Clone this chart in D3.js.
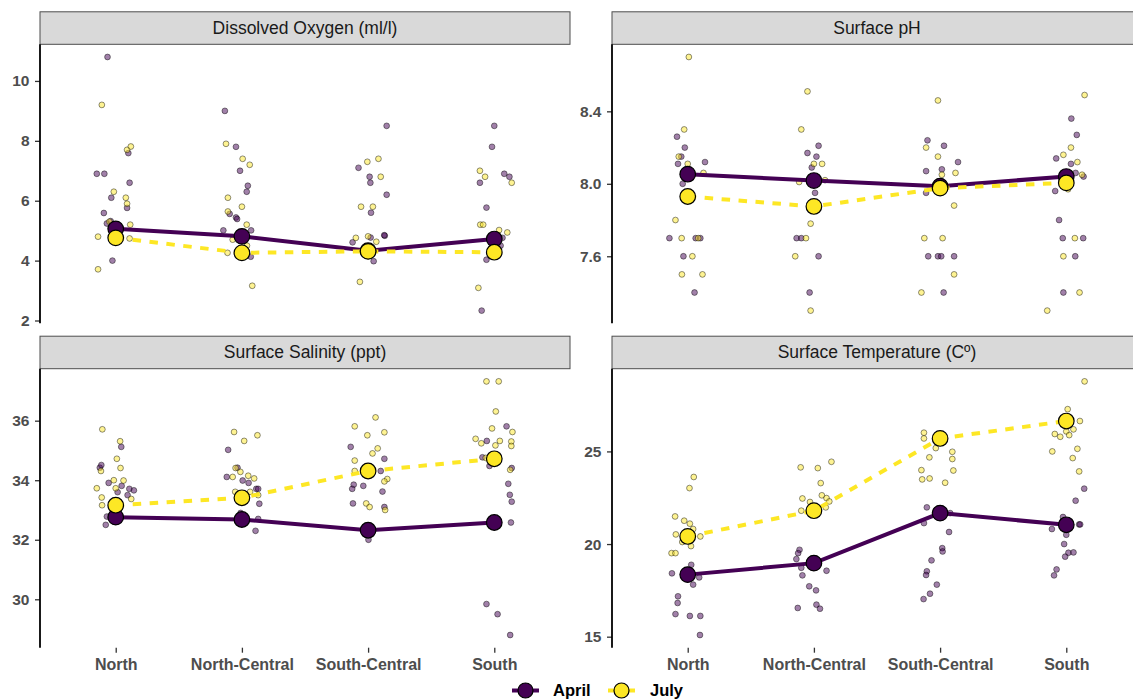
<!DOCTYPE html>
<html>
<head>
<meta charset="utf-8">
<script src="https://cdn.jsdelivr.net/npm/d3@7"></script>
<style>
  body { margin: 0; background: #ffffff; }
  svg { display: block; }
</style>
</head>
<body>
<script>
// Sampling regions, north to south
const regions = ["North", "North-Central", "South-Central", "South"];
const seasons = ["April", "July"];

// Observations: [region index, jitter offset (in category widths), value]
const doApril = [
  [0,-0.065,10.8],[0,-0.15,6.9],[0,-0.09,6.9],[0,0.10,7.59],[0,0.11,6.6],[0,-0.035,6.1],[0,-0.094,5.59],[0,-0.07,5.24],[0,-0.04,5.32],[0,0.09,5.76],[0,-0.026,4.0],
  [1,-0.135,9.0],[1,-0.047,7.8],[1,-0.015,7.0],[1,0.047,6.5],[1,0.038,6.3],[1,-0.097,5.56],[1,-0.047,5.44],[1,-0.038,5.39],[1,-0.147,5.01],[1,0.073,5.01],[1,0.07,4.13],
  [2,0.147,8.5],[2,-0.076,7.1],[2,0.012,6.8],[2,0.018,6.6],[2,0.147,6.2],[2,0.023,5.6],[2,0.132,4.83],[2,0.128,4.85],[2,-0.123,4.61],[2,0.02,4.77],[2,0.044,3.98],
  [3,0,8.5],[3,-0.018,7.8],[3,0.079,6.9],[3,0.12,6.8],[3,-0.114,6.6],[3,-0.062,5.77],[3,0.065,4.76],[3,0.05,4.5],[3,-0.062,4.03],[3,-0.1,2.33]
];
const doJuly = [
  [0,-0.11,9.2],[0,-0.015,6.3],[0,0.08,6.1],[0,0.09,5.9],[0,0.09,7.7],[0,0.12,7.81],[0,0.115,5.2],[0,-0.14,4.8],[0,0.11,4.74],[0,-0.14,3.71],[0,-0.05,5.3],
  [1,-0.126,7.9],[1,0.006,7.4],[1,0.062,7.2],[1,-0.111,6.1],[1,-0.111,5.64],[1,0,5.8],[1,0.038,5.2],[1,-0.073,4.7],[1,-0.114,4.26],[1,0.04,4.5],[1,0.082,3.16],
  [2,-0.006,7.3],[2,0.082,7.4],[2,0.1,6.8],[2,-0.056,5.8],[2,0.038,5.8],[2,-0.097,4.76],[2,0,4.81],[2,0.065,4.63],[2,-0.065,3.29],
  [3,-0.114,7.0],[3,-0.073,6.8],[3,0.138,6.6],[3,-0.111,5.2],[3,-0.088,5.2],[3,0.038,5.02],[3,0.103,4.94],[3,-0.126,3.09]
];
const doMeanApril = [5.06, 4.81, 4.33, 4.72];
const doMeanJuly = [4.76, 4.26, 4.31, 4.28];
const doTicks = [2, 4, 6, 8, 10];

const phApril = [
  [0,-0.085,8.26],[0,-0.023,8.2],[0,-0.051,8.15],[0,-0.077,8.11],[0,0.137,8.12],[0,-0.04,8.0],[0,-0.145,7.7],[0,0.063,7.7],[0,0.1,7.7],[0,-0.034,7.6],[0,0.054,7.4],
  [1,-0.051,8.17],[1,0.037,8.21],[1,0.02,8.15],[1,-0.017,8.09],[1,0.009,7.95],[1,-0.137,7.7],[1,-0.1,7.7],[1,0.037,7.6],[1,-0.034,7.4],
  [2,-0.1,8.24],[2,0.031,8.21],[2,0.142,8.12],[2,-0.111,8.07],[2,0.014,8.08],[2,-0.111,7.95],[2,-0.094,7.6],[2,-0.017,7.6],[2,0.009,7.6],[2,0.111,7.6],[2,0.028,7.4],
  [3,0.04,8.36],[3,0.083,8.27],[3,-0.08,8.14],[3,0.037,8.11],[3,0.074,8.06],[3,0.137,8.04],[3,-0.088,7.96],[3,-0.057,7.8],[3,-0.028,7.7],[3,0.134,7.7],[3,0.071,7.6],[3,-0.023,7.4]
];
const phJuly = [
  [0,0.009,8.7],[0,-0.028,8.3],[0,-0.071,8.15],[0,0,8.11],[0,0.125,8.06],[0,-0.097,7.8],[0,-0.048,7.7],[0,0.083,7.7],[0,0.037,7.6],[0,-0.046,7.5],[0,0.117,7.5],
  [1,-0.051,8.51],[1,-0.1,8.3],[1,0,8.11],[1,0.065,8.11],[1,-0.117,8.01],[1,0.088,8.02],[1,-0.026,7.78],[1,-0.063,7.7],[1,-0.148,7.6],[1,-0.026,7.3],
  [2,-0.017,8.46],[2,-0.111,8.2],[2,-0.017,8.15],[2,0.014,8.05],[2,0.122,8.06],[2,0.111,7.88],[2,-0.125,7.7],[2,0.02,7.7],[2,0.111,7.5],[2,-0.148,7.4],
  [3,0.145,8.49],[3,0.037,8.2],[3,-0.023,8.16],[3,0.088,8.12],[3,0.125,8.05],[3,0.014,7.97],[3,0.068,7.7],[3,-0.023,7.6],[3,0.105,7.4],[3,-0.151,7.3]
];
const phMeanApril = [8.053, 8.018, 7.987, 8.04];
const phMeanJuly = [7.93, 7.875, 7.976, 8.005];
const phTicks = [7.6, 8.0, 8.4];

const salApril = [
  [0,0.044,35.12],[0,-0.126,34.42],[0,-0.114,34.51],[0,-0.056,33.91],[0,0.015,33.6],[0,0.047,33.81],[0,0.108,33.71],[0,0.144,33.66],[0,0.094,33.5],[0,-0.07,32.78],[0,-0.079,32.5],
  [1,-0.109,35.02],[1,-0.12,34.11],[1,-0.035,34.42],[1,0.006,33.99],[1,0.053,33.91],[1,0.114,33.71],[1,0.129,33.71],[1,0.138,33.21],[1,0.129,32.7],[1,0.108,32.3],[1,-0.01,32.9],
  [2,-0.138,35.12],[2,0.129,34.72],[2,0.1,34.31],[2,-0.114,33.85],[2,-0.038,33.81],[2,-0.126,33.71],[2,0.114,33.62],[2,-0.12,33.22],[2,0.129,33.1],[2,0.003,32.0],[2,-0.02,32.3],
  [3,0.097,35.81],[3,-0.059,35.32],[3,-0.094,34.77],[3,-0.038,34.48],[3,0.138,34.41],[3,0.111,33.88],[3,0.123,33.51],[3,0.138,33.28],[3,0.132,32.58],[3,-0.062,29.84],[3,0.026,29.5],[3,0.126,28.8]
];
const salJuly = [
  [0,-0.106,35.71],[0,0.035,35.31],[0,0.009,34.72],[0,0.038,34.41],[0,-0.117,34.31],[0,-0.15,33.73],[0,-0.015,34.0],[0,0.062,33.99],[0,0,33.73],[0,-0.111,33.42],[0,-0.108,33.16],[0,0.123,33.37],
  [1,-0.062,35.62],[1,0.018,35.32],[1,0.123,35.51],[1,-0.073,34.11],[1,-0.05,34.41],[1,-0.012,34.28],[1,0.05,34.15],[1,0.097,34.06],[1,-0.053,33.61],[1,0.065,33.61],[1,0.129,33.5],
  [2,-0.106,35.81],[2,0.059,36.11],[2,-0.006,35.51],[2,0.129,35.61],[2,0.076,35.07],[2,0.035,34.9],[2,-0.106,34.66],[2,-0.106,34.31],[2,0.152,34.04],[2,0.129,33.96],[2,-0.015,33.22],[2,0.012,33.1],[2,0.135,33.0],
  [3,-0.062,37.32],[3,0.035,37.32],[3,0.012,36.31],[3,-0.018,35.74],[3,0.144,35.62],[3,-0.148,35.39],[3,-0.103,35.24],[3,0.044,35.32],[3,0.009,35.17],[3,0.135,35.3],[3,0.135,35.15],[3,0.126,34.35],[3,-0.068,34.75]
];
const salMeanApril = [32.76, 32.68, 32.32, 32.58];
const salMeanJuly = [33.16, 33.41, 34.31, 34.72];
const salTicks = [30, 32, 34, 36];

const tempApril = [
  [0,-0.125,18.42],[0,0.028,18.88],[0,0.091,18.2],[0,0.043,17.81],[0,-0.077,17.18],[0,-0.08,16.82],[0,-0.097,16.22],[0,0.017,16.12],[0,0.1,16.12],[0,0.097,15.09],
  [1,-0.114,19.69],[1,-0.125,19.51],[1,-0.139,19.19],[1,-0.1,18.72],[1,-0.091,18.31],[1,0.1,18.56],[1,-0.037,17.72],[1,0.017,17.5],[1,-0.128,16.55],[1,0.02,16.73],[1,0.048,16.51],
  [2,-0.105,21.98],[2,0.08,21.67],[2,-0.128,21.13],[2,0.071,20.65],[2,0.017,19.78],[2,0.02,19.6],[2,-0.068,19.12],[2,-0.105,18.53],[2,-0.111,18.33],[2,-0.026,17.81],[2,-0.08,17.32],[2,-0.131,17.03],
  [3,0.142,22.99],[3,0.074,22.34],[3,-0.026,21.46],[3,0.102,21.06],[3,0.11,21.06],[3,-0.114,20.81],[3,0,20.5],[3,-0.017,20.0],[3,0.017,19.53],[3,0.057,19.55],[3,-0.009,19.32],[3,-0.077,18.63],[3,-0.097,18.31]
];
const tempJuly = [
  [0,0.048,23.62],[0,0.014,23.02],[0,-0.1,21.49],[0,-0.028,21.26],[0,0.017,21.1],[0,0.043,20.81],[0,-0.094,20.52],[0,0.1,20.41],[0,-0.043,20.11],[0,0.026,19.89],[0,-0.128,19.51],[0,-0.097,19.51],
  [1,-0.105,24.14],[1,0.031,24.1],[1,0.139,24.44],[1,0.054,23.29],[1,-0.091,22.46],[1,-0.031,22.27],[1,0.063,22.63],[1,0.1,22.48],[1,0.122,22.3],[1,0.094,21.98],[1,-0.1,21.8],
  [2,-0.128,26.01],[2,-0.128,25.7],[2,-0.034,25.18],[2,0.097,24.98],[2,0.097,24.59],[2,-0.085,24.68],[2,-0.148,23.99],[2,-0.142,23.49],[2,-0.083,23.54],[2,0.105,23.97],[2,0.04,23.31],
  [3,0.145,28.78],[3,0.011,27.28],[3,0.108,26.64],[3,-0.091,25.94],[3,-0.048,25.79],[3,0,26.08],[3,0.023,25.88],[3,0.057,26.19],[3,0.088,25.14],[3,-0.111,25.0],[3,0.051,24.64],[3,0.102,23.92]
];
const tempMeanApril = [18.35, 18.97, 21.67, 21.04];
const tempMeanJuly = [20.41, 21.8, 25.7, 26.64];
const tempTicks = [15, 20, 25];

const panelTitles = ["Dissolved Oxygen (ml/l)", "Surface pH", "Surface Salinity (ppt)", "Surface Temperature (C\u00BA)"];

// Facet definitions assembled from the arrays above
const panels = [
  { title: panelTitles[0], obs: [doApril, doJuly], means: [doMeanApril, doMeanJuly], ticks: doTicks, fmt: d3.format("d") },
  { title: panelTitles[1], obs: [phApril, phJuly], means: [phMeanApril, phMeanJuly], ticks: phTicks, fmt: d3.format(".1f") },
  { title: panelTitles[2], obs: [salApril, salJuly], means: [salMeanApril, salMeanJuly], ticks: salTicks, fmt: d3.format("d") },
  { title: panelTitles[3], obs: [tempApril, tempJuly], means: [tempMeanApril, tempMeanJuly], ticks: tempTicks, fmt: d3.format("d") }
];

const colors = { April: "#440154", July: "#FDE725" };
const FONT = "'Liberation Sans', Arial, Helvetica, sans-serif";

const W = 1133, H = 700;
const panelW = 530, plotH = 279, stripH = 32.5;
const colX = [40, 612];
const rowTop = [11.8, 336.2];

const svg = d3.select("body").append("svg")
  .attr("width", W).attr("height", H)
  .style("font-family", FONT);

svg.append("rect").attr("width", W).attr("height", H).attr("fill", "#ffffff");

panels.forEach((p, i) => {
  const col = i % 2, row = Math.floor(i / 2);
  const x0 = colX[col];
  const stripTop = rowTop[row];
  const top = stripTop + stripH;
  const bottom = top + plotH;

  const g = svg.append("g");

  const x = d3.scalePoint().domain(regions).range([x0, x0 + panelW]).padding(0.6);
  const step = x.step();

  const allVals = p.obs.flat().map(d => d[2]);
  const [lo, hi] = d3.extent(allVals);
  const pad = (hi - lo) * 0.05;
  const y = d3.scaleLinear().domain([lo - pad, hi + pad]).range([bottom, top]);

  // Facet strip
  g.append("rect")
    .attr("x", x0).attr("y", stripTop)
    .attr("width", panelW).attr("height", stripH)
    .attr("fill", "#D9D9D9").attr("stroke", "#4D4D4D").attr("stroke-width", 1);
  g.append("text")
    .attr("x", x0 + panelW / 2).attr("y", stripTop + stripH / 2 + 6)
    .attr("text-anchor", "middle")
    .attr("font-size", 17.5).attr("fill", "#1A1A1A")
    .text(p.title);

  // Y axis
  const yAxis = g.append("g")
    .attr("transform", `translate(${x0},0)`)
    .call(d3.axisLeft(y).tickValues(p.ticks).tickFormat(p.fmt).tickSize(5).tickPadding(5.5));
  yAxis.select(".domain").remove();
  yAxis.selectAll(".tick line").attr("stroke", "#333333").attr("stroke-width", 1.3);
  yAxis.selectAll(".tick text")
    .attr("font-family", FONT).attr("font-size", 15.5).attr("font-weight", "bold")
    .attr("fill", "#4D4D4D");
  g.append("line")
    .attr("x1", x0).attr("x2", x0).attr("y1", top).attr("y2", bottom)
    .attr("stroke", "#000000").attr("stroke-width", 1.8);

  // X axis labels on the bottom row only
  if (row === 1) {
    const xAxis = g.append("g")
      .attr("transform", `translate(0,${bottom})`)
      .call(d3.axisBottom(x).tickSize(5).tickPadding(6));
    xAxis.select(".domain").remove();
    xAxis.selectAll(".tick line").attr("stroke", "#333333").attr("stroke-width", 1.3);
    xAxis.selectAll(".tick text")
      .attr("font-family", FONT).attr("font-size", 16).attr("font-weight", "bold")
      .attr("fill", "#4D4D4D");
  }

  // Jittered observations
  seasons.forEach((s, k) => {
    g.append("g").selectAll("circle")
      .data(p.obs[k]).join("circle")
      .attr("cx", d => x(regions[d[0]]) + d[1] * step)
      .attr("cy", d => y(d[2]))
      .attr("r", 2.9)
      .attr("fill", colors[s]).attr("fill-opacity", 0.5)
      .attr("stroke", "#000000").attr("stroke-opacity", 0.55).attr("stroke-width", 0.8);
  });

  // Seasonal mean lines
  const line = d3.line().x((d, j) => x(regions[j])).y(d => y(d));
  seasons.forEach((s, k) => {
    g.append("path")
      .datum(p.means[k])
      .attr("d", line)
      .attr("fill", "none")
      .attr("stroke", colors[s])
      .attr("stroke-width", 4)
      .attr("stroke-dasharray", s === "July" ? "8.5,8.5" : null);
  });

  // Seasonal mean points
  seasons.forEach((s, k) => {
    g.append("g").selectAll("circle")
      .data(p.means[k]).join("circle")
      .attr("cx", (d, j) => x(regions[j]))
      .attr("cy", d => y(d))
      .attr("r", 7.8)
      .attr("fill", colors[s])
      .attr("stroke", "#000000").attr("stroke-width", 1.2);
  });
});

// Legend
const legend = svg.append("g").attr("transform", "translate(0,690.5)");
const legendItems = [
  { s: "April", kx: 512, tx: 553 },
  { s: "July", kx: 608, tx: 650 }
];
legendItems.forEach(it => {
  legend.append("line")
    .attr("x1", it.kx).attr("x2", it.kx + 27).attr("y1", 0).attr("y2", 0)
    .attr("stroke", colors[it.s]).attr("stroke-width", 4);
  legend.append("circle")
    .attr("cx", it.kx + 13.5).attr("cy", 0).attr("r", 7.5)
    .attr("fill", colors[it.s]).attr("stroke", "#000000").attr("stroke-width", 1.2);
  legend.append("text")
    .attr("x", it.tx).attr("y", 5.5)
    .attr("font-size", 16.5).attr("font-weight", "bold").attr("fill", "#000000")
    .text(it.s);
});
</script>
</body>
</html>
